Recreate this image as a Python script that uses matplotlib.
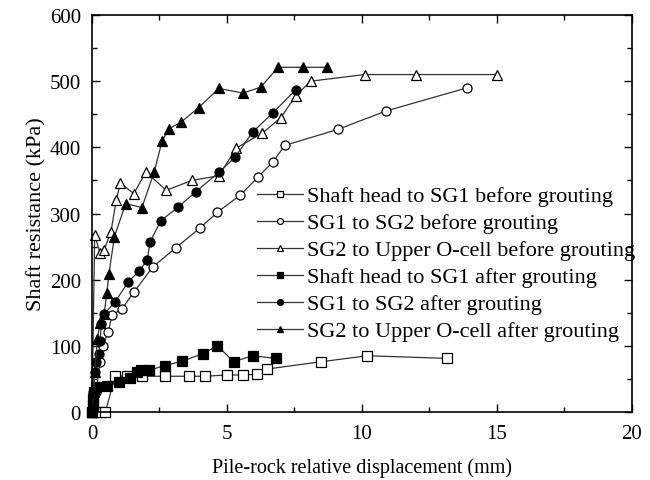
import matplotlib
matplotlib.use("Agg")
import matplotlib.pyplot as plt
from matplotlib.ticker import MultipleLocator

plt.rcParams['font.family'] = ['Liberation Serif', 'DejaVu Serif']

# Shaft head to SG1 before grouting
sq_open_x = [0.0, 0.1, 0.3, 0.5, 0.85, 1.3, 1.85, 2.7, 3.6, 4.2, 5.0, 5.6, 6.1, 6.5, 8.5, 10.2, 13.15]
sq_open_y = [0, 0, 0, 0, 54, 54, 54, 54, 54, 54, 56, 56, 57, 65, 76, 85, 81]

# SG1 to SG2 before grouting
ci_open_x = [0.0, 0.15, 0.3, 0.4, 0.6, 0.75, 1.1, 1.55, 2.25, 3.1, 4.0, 4.65, 5.5, 6.15, 6.7, 7.15, 9.1, 10.9, 13.9]
ci_open_y = [0, 30, 75, 100, 121, 147, 155, 181, 219, 248, 278, 302, 328, 355, 378, 403, 427, 455, 490]

# SG2 to Upper O-cell before grouting
tr_open_x = [0.0, 0.1, 0.3, 0.45, 0.7, 0.9, 1.05, 1.55, 2.0, 2.75, 3.7, 4.7, 5.35, 6.3, 7.0, 7.55, 8.1, 10.1, 12.0, 15.0]
tr_open_y = [0, 268, 240, 245, 272, 320, 346, 330, 363, 335, 350, 357, 399, 421, 445, 478, 500, 510, 510, 510]

# Shaft head to SG1 after grouting
sq_fill_x = [0.0, 0.03, 0.05, 0.08, 0.15, 0.55, 1.0, 1.4, 1.65, 1.8, 2.1, 2.7, 3.35, 4.1, 4.65, 5.25, 5.95, 6.8]
sq_fill_y = [0, 10, 20, 30, 38, 39, 46, 52, 60, 64, 63, 70, 77, 88, 100, 76, 85, 81]

# SG1 to SG2 after grouting
ci_fill_x = [0.0, 0.05, 0.1, 0.15, 0.27, 0.3, 0.35, 0.45, 0.85, 1.35, 1.75, 2.05, 2.15, 2.55, 3.2, 3.85, 4.7, 5.3, 5.95, 6.7, 7.55]
ci_fill_y = [0, 30, 60, 75, 88, 108, 133, 148, 166, 197, 213, 230, 257, 289, 310, 333, 362, 385, 423, 452, 487]

# SG2 to Upper O-cell after grouting
tr_fill_x = [0.0, 0.05, 0.1, 0.2, 0.3, 0.45, 0.55, 0.63, 0.83, 1.25, 1.85, 2.3, 2.6, 2.85, 3.3, 3.95, 4.7, 5.6, 6.25, 6.9, 7.8, 8.7]
tr_fill_y = [0, 30, 60, 110, 135, 148, 180, 209, 265, 315, 309, 362, 410, 428, 438, 460, 489, 482, 491, 521, 521, 521]

labels = [
    'Shaft head to SG1 before grouting',
    'SG1 to SG2 before grouting',
    'SG2 to Upper O-cell before grouting',
    'Shaft head to SG1 after grouting',
    'SG1 to SG2 after grouting',
    'SG2 to Upper O-cell after grouting',
]

fig = plt.figure(figsize=(6.5, 4.81), dpi=100)
ax = fig.add_axes([0.1415, 0.1414, 0.8305, 0.8253])

series = [
    (sq_open_x, sq_open_y, 's', 'white'),
    (ci_open_x, ci_open_y, 'o', 'white'),
    (tr_open_x, tr_open_y, '^', 'white'),
    (sq_fill_x, sq_fill_y, 's', 'black'),
    (ci_fill_x, ci_fill_y, 'o', 'black'),
    (tr_fill_x, tr_fill_y, '^', 'black'),
]
for (xs, ys, mk, fc), lab in zip(series, labels):
    ax.plot(xs, ys, color='#333333', linewidth=0.9, marker=mk, markersize=6.5,
            markerfacecolor=fc, markeredgecolor='black', markeredgewidth=0.9,
            label=lab, clip_on=False)

ax.set_xlim(0, 20)
ax.set_ylim(0, 600)
ax.xaxis.set_major_locator(MultipleLocator(5))
ax.xaxis.set_minor_locator(MultipleLocator(2.5))
ax.yaxis.set_major_locator(MultipleLocator(100))
ax.yaxis.set_minor_locator(MultipleLocator(50))
ax.tick_params(which='both', direction='in', top=True, right=True, labelsize=15, width=1)
ax.tick_params(which='major', length=6)
ax.tick_params(which='minor', length=3.5)
ax.tick_params(axis='x', pad=9)
ax.tick_params(axis='y', pad=8)
for sp in ax.spines.values():
    sp.set_linewidth(1.2)

ax.set_xlabel('Pile-rock relative displacement (mm)', fontsize=14.5, labelpad=10)
ax.set_ylabel('Shaft resistance (kPa)', fontsize=16, labelpad=2)

ax.legend(loc='upper left', bbox_to_anchor=(0.29, 0.592), frameon=False, fontsize=16,
          handlelength=2.05, handletextpad=0.2, labelspacing=0.29, markerscale=0.65,
          borderaxespad=0)

fig.savefig('out.png', dpi=100)
